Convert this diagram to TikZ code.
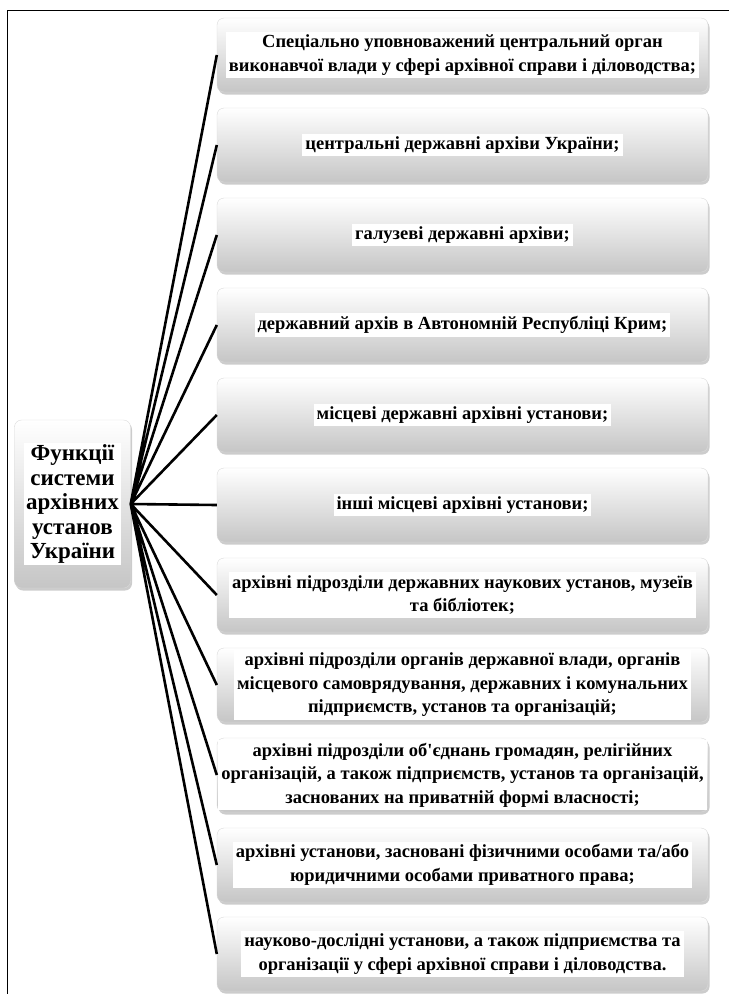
\documentclass[tikz,border=0pt]{standalone}
\usepackage{fontspec}
\setmainfont{Liberation Serif}
\usetikzlibrary{shadows}

\tikzset{
  ibox/.style={rounded corners=7pt,minimum width=491pt,minimum height=74pt,
    draw=gray!30,top color=white,middle color=white!95!black,bottom color=gray!45,
    drop shadow={shadow xshift=1.5pt,shadow yshift=-2.5pt,opacity=.4}},
  itext/.style={fill=white,inner sep=3pt,align=center,
    font=\fontsize{18.5}{23.5}\selectfont\bfseries},
  hubbox/.style={ibox,minimum width=116pt,minimum height=168pt},
  hubtext/.style={itext,inner sep=2pt,font=\fontsize{23}{24.5}\selectfont\bfseries},
  link/.style={line width=2.6pt,black}
}

\begin{document}
\begin{tikzpicture}[x=1pt,y=-1pt]
\newcommand{\ibox}[3]{\node[ibox] (#1) at #2 {}; \node[itext] (#1t) at (#1.center) {#3};}

\useasboundingbox (0,0) rectangle (729,994);
\draw[line width=0.8pt] (729,10)--(7,10)--(7,994);

\node[hubbox] (hub) at (72.5,504) {};
\node[hubtext] (hubt) at (hub.center) {Функції\\системи\\архівних\\установ\\України};

\ibox{b1}{(462.5,55)}{Спеціально уповноважений центральний орган\\виконавчої влади у сфері архівної справи і діловодства;}
\ibox{b2}{(462.5,145)}{центральні державні архіви України;}
\ibox{b3}{(462.5,235)}{галузеві державні архіви;}
\ibox{b4}{(462.5,325)}{державний архів в Автономній Республіці Крим;}
\ibox{b5}{(462.5,415)}{місцеві державні архівні установи;}
\ibox{b6}{(462.5,505)}{інші місцеві архівні установи;}
\ibox{b7}{(462.5,595)}{архівні підрозділи державних наукових установ, музеїв\\та бібліотек;}
\ibox{b8}{(462.5,685)}{архівні підрозділи органів державної влади, органів\\місцевого самоврядування, державних і комунальних\\підприємств, установ та організацій;}
\ibox{b9}{(462.5,775)}{архівні підрозділи об\textquotesingle єднань громадян, релігійних\\організацій, а також підприємств, установ та організацій,\\заснованих на приватній формі власності;}
\ibox{b10}{(462.5,865)}{архівні установи, засновані фізичними особами та/або\\юридичними особами приватного права;}
\ibox{b11}{(462.5,954)}{науково-дослідні установи, а також підприємства та\\організації у сфері архівної справи і діловодства.}

\draw[link] (hub.east)--(b1.west) (hub.east)--(b2.west) (hub.east)--(b3.west)
	(hub.east)--(b4.west) (hub.east)--(b5.west) (hub.east)--(b6.west)
	(hub.east)--(b7.west) (hub.east)--(b8.west) (hub.east)--(b9.west)
	(hub.east)--(b10.west) (hub.east)--(b11.west);
\end{tikzpicture}
\end{document}
